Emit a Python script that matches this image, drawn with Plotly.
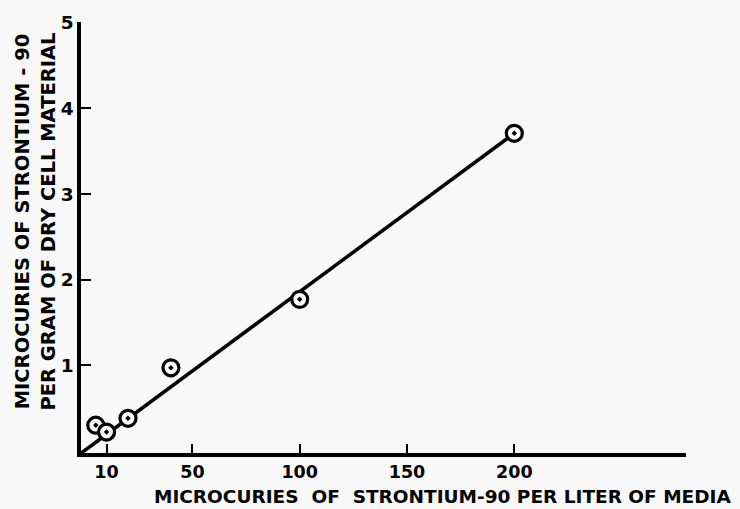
import plotly.graph_objects as go

# Data
media_sr90 = [5, 10, 20, 40, 100, 200]          # microcuries per liter of media
cell_sr90 = [0.30, 0.22, 0.38, 0.97, 1.77, 3.71]  # microcuries per gram dry cell material
fit_x = [-2, 200]
fit_y = [-0.03, 3.71]

x_tickvals = [10, 50, 100, 150, 200, 280]
x_ticktext = ["10", "50", "100", "150", "200", ""]
y_tickvals = [1, 2, 3, 4, 5]
y_ticktext = ["1", "2", "3", "4", "5"]

x_title = "MICROCURIES  OF  STRONTIUM-90 PER LITER OF MEDIA"
y_title = "MICROCURIES OF STRONTIUM - 90<br>PER GRAM OF DRY CELL MATERIAL"

FONT = "DejaVu Sans"

fig = go.Figure()
fig.add_trace(go.Scatter(x=fit_x, y=fit_y, mode="lines",
                         line=dict(color="black", width=3.5),
                         showlegend=False, hoverinfo="skip"))
fig.add_trace(go.Scatter(x=media_sr90, y=cell_sr90, mode="markers",
                         marker=dict(symbol="circle-dot", size=16, color="white",
                                     line=dict(color="black", width=3.2)),
                         showlegend=False))

fig.update_layout(
    width=740, height=509,
    margin=dict(l=81, r=54, t=22, b=56),
    paper_bgcolor="#f8f8f8", plot_bgcolor="#f8f8f8",
    font=dict(family=FONT, color="black", size=18, weight="bold"),
    xaxis=dict(range=[-1.9, 280], showgrid=False, zeroline=False,
               showline=True, linecolor="black", linewidth=3.5,
               ticks="inside", ticklen=9, tickwidth=2, tickcolor="black",
               tickvals=x_tickvals, ticktext=x_ticktext,
               tickfont=dict(family=FONT, size=17.5, weight="bold")),
    yaxis=dict(range=[-0.025, 5.01], showgrid=False, zeroline=False,
               showline=True, linecolor="black", linewidth=3.5,
               ticks="inside", ticklen=10, tickwidth=2, tickcolor="black",
               tickvals=y_tickvals, ticktext=y_ticktext,
               tickfont=dict(family=FONT, size=18.5, weight="bold")),
    annotations=[
        dict(text=x_title,
             xref="paper", yref="paper", x=0.598, y=-0.102,
             xanchor="center", yanchor="middle", showarrow=False,
             font=dict(family=FONT, size=18.5, weight="bold")),
        dict(text=y_title,
             xref="paper", yref="paper", x=-0.076, y=0.537,
             xanchor="center", yanchor="middle", textangle=-90, showarrow=False,
             align="center",
             font=dict(family=FONT, size=19.5, weight="bold")),
    ],
)

fig.write_html("out.html", config={"displayModeBar": False},
               post_script="document.body.style.margin='0';")
